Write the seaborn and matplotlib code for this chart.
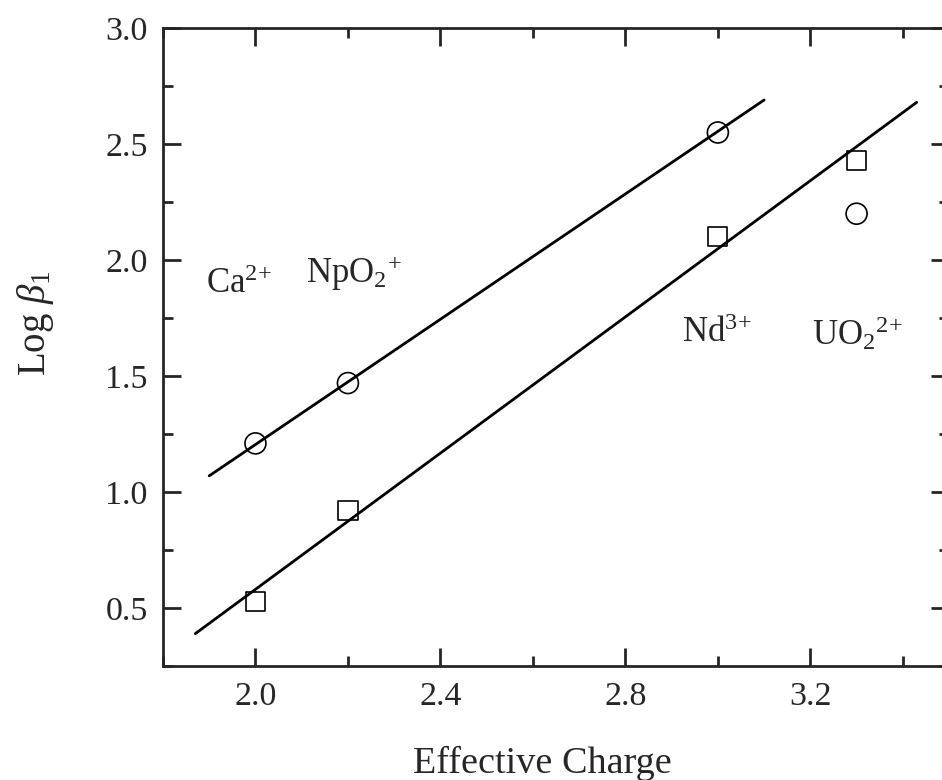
import numpy as np
import pandas as pd
import matplotlib
matplotlib.use("Agg")
import matplotlib.pyplot as plt
import seaborn as sns
from matplotlib.ticker import MultipleLocator

# Data
circle_x = [2.0, 2.2, 3.0, 3.3]
circle_y = [1.21, 1.47, 2.55, 2.20]
square_x = [2.0, 2.2, 3.0, 3.3]
square_y = [0.53, 0.92, 2.10, 2.43]

# fitted lines (end points)
upper_fit_x = [1.90, 3.10]
upper_fit_y = [1.07, 2.69]
lower_fit_x = [1.87, 3.43]
lower_fit_y = [0.39, 2.68]

ion_labels = [r'Ca$^{2\!+}$', r'NpO$_2$$^{+}$', r'Nd$^{3\!+}$', r'UO$_2$$^{2\!+}$']
ion_x = [1.892, 2.11, 2.923, 3.204]
ion_y = [1.857, 1.90, 1.646, 1.633]

sns.set_style("ticks")
plt.rcParams['font.family'] = ['Liberation Serif', 'DejaVu Serif']
plt.rcParams['mathtext.fontset'] = 'custom'
plt.rcParams['mathtext.rm'] = 'Liberation Serif'
plt.rcParams['mathtext.it'] = 'Liberation Serif:italic'

fig = plt.figure(figsize=(9.42, 7.8), dpi=100)
ax = fig.add_axes([0.173, 0.146, 0.8345, 0.818])

circles = pd.DataFrame({'x': circle_x, 'y': circle_y})
squares = pd.DataFrame({'x': square_x, 'y': square_y})
upper = pd.DataFrame({'x': upper_fit_x, 'y': upper_fit_y})
lower = pd.DataFrame({'x': lower_fit_x, 'y': lower_fit_y})

sns.lineplot(data=upper, x='x', y='y', color='black', linewidth=2, ax=ax)
sns.lineplot(data=lower, x='x', y='y', color='black', linewidth=2, ax=ax)
sns.scatterplot(data=circles, x='x', y='y', marker='o', s=228,
                facecolor='none', edgecolor='black', linewidth=1.2, ax=ax, zorder=3)
sns.scatterplot(data=squares, x='x', y='y', marker='s', s=190,
                facecolor='none', edgecolor='black', linewidth=1.2, ax=ax, zorder=3)

for lab, lx, ly in zip(ion_labels, ion_x, ion_y):
    ax.text(lx, ly, lab, fontsize=25, ha='left', va='baseline')

ax.set_xlim(1.8, 3.5)
ax.set_ylim(0.25, 3.0)
ax.xaxis.set_major_locator(MultipleLocator(0.4))
ax.xaxis.set_minor_locator(MultipleLocator(0.2))
ax.yaxis.set_major_locator(MultipleLocator(0.5))
ax.yaxis.set_minor_locator(MultipleLocator(0.25))
ax.tick_params(which='both', direction='in', top=True, right=True, width=2,
               labelsize=24.5, pad=11)
ax.tick_params(which='major', length=13)
ax.tick_params(which='minor', length=7)
for sp in ax.spines.values():
    sp.set_linewidth(2)
ax.set_xlabel('')
ax.set_ylabel('')

# axis titles placed as in the reference
fig.text(542 / 942, 1 - 773 / 780, 'Effective Charge', fontsize=27.5,
         ha='center', va='baseline')
fig.text(35 / 942, 1 - 323 / 780, r'Log $\beta_1$', fontsize=28,
         ha='center', va='center', rotation=90)

fig.savefig('out.png', dpi=100)
